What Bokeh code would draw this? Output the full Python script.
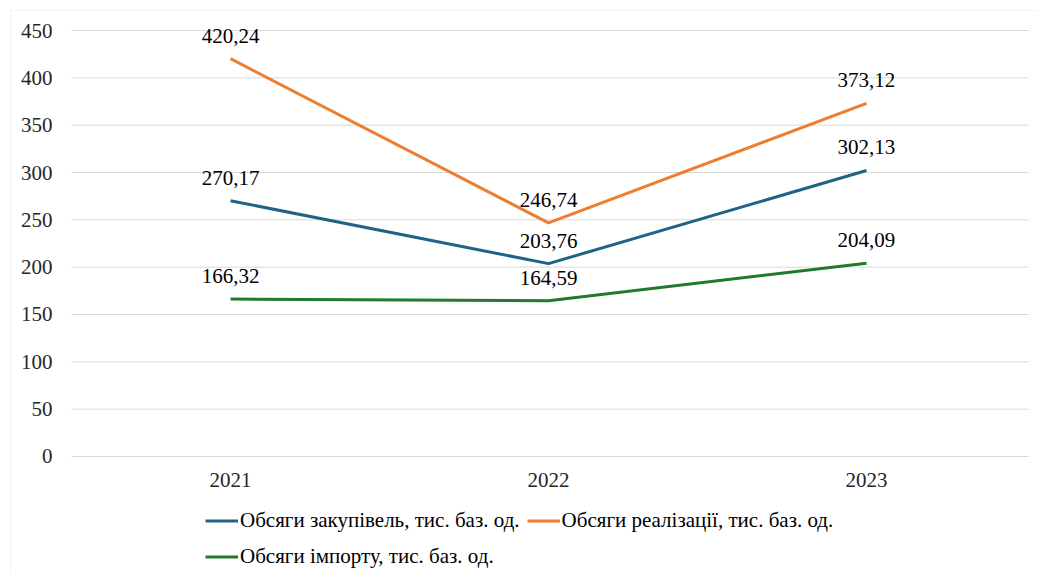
from bokeh.plotting import figure
from bokeh.models import ColumnDataSource, Range1d, Legend, LegendItem, BoxAnnotation
from bokeh.core.properties import value
from bokeh.embed import file_html
from bokeh.resources import INLINE

years = ["2021", "2022", "2023"]
purchases = [270.17, 203.76, 302.13]
sales = [420.24, 246.74, 373.12]
imports = [166.32, 164.59, 204.09]
y_ticks = [0, 50, 100, 150, 200, 250, 300, 350, 400, 450]

series_names = [
    "Обсяги закупівель, тис. баз. од.",
    "Обсяги реалізації, тис. баз. од.",
    "Обсяги імпорту, тис. баз. од.",
]
series_values = [purchases, sales, imports]
series_colors = ["#1F6387", "#ED7D31", "#217A2B"]

FONT = "'Liberation Serif', serif"
FS = "21px"

# each year occupies one unit band, centred at i + 0.5
x_pos = [i + 0.5 for i in range(len(years))]
n = len(years)

p = figure(
    width=1038, height=573,
    x_range=Range1d(-0.2233, 3.0409),
    y_range=Range1d(-123.6, 481.7),
    output_backend="svg", toolbar_location=None,
    min_border=0,
)
p.axis.visible = False
p.grid.visible = False
p.outline_line_color = None
p.background_fill_color = "white"
p.border_fill_color = "white"

# horizontal gridlines across the plotting band
p.segment(x0=0, x1=n + 0.01, y0=y_ticks, y1=y_ticks,
          line_color="#D9D9D9", line_width=1)

# value axis labels
p.text(x=[0] * len(y_ticks), y=y_ticks, text=[str(t) for t in y_ticks],
       x_offset=-19, text_align="right", text_baseline="middle",
       text_font=value(FONT), text_font_size=FS, text_color="#262626")

# category axis labels
p.text(x=x_pos, y=[0] * n, text=years, y_offset=24,
       text_align="center", text_baseline="middle",
       text_font=value(FONT), text_font_size=FS, text_color="#262626")

items = []
for name, vals, color in zip(series_names, series_values, series_colors):
    src = ColumnDataSource(dict(
        x=x_pos, y=vals,
        lbl=[f"{v:.2f}".replace(".", ",") for v in vals],
    ))
    r = p.line("x", "y", source=src, line_color=color, line_width=3)
    p.text("x", "y", text="lbl", source=src, text_align="center",
           text_baseline="middle", y_offset=-23,
           text_font=value(FONT), text_font_size=FS, text_color="#000000")
    items.append(LegendItem(label=name, renderers=[r]))

legend = Legend(
    items=items, orientation="horizontal", ncols=2,
    location=(205, 2),
    label_text_font=FONT, label_text_font_size=FS, label_text_color="#000000",
    glyph_width=33, glyph_height=29, label_height=29, label_standoff=2,
    spacing=7, padding=0, margin=0,
    border_line_color=None, background_fill_alpha=0,
)
p.add_layout(legend, "center")

# light outer frame around the chart
p.add_layout(BoxAnnotation(
    left=10, right=1100, top=10, bottom=700,
    left_units="canvas", right_units="canvas",
    top_units="canvas", bottom_units="canvas",
    fill_alpha=0, line_color="#D9D9D9", line_width=1,
))

open("out.html", "w").write(file_html(p, INLINE))
